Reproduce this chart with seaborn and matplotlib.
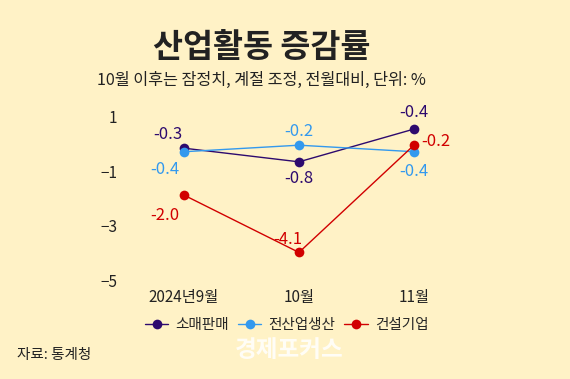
import pandas as pd
import seaborn as sns
import matplotlib.pyplot as plt

# 데이터
months = ['2024년9월', '10월', '11월']
series_names = ['소매판매', '전산업생산', '건설기업']
retail = [-0.15, -0.65, 0.55]
production = [-0.28, -0.04, -0.28]
construction = [-1.87, -3.97, -0.04]
retail_labels = ['-0.3', '-0.8', '-0.4']
production_labels = ['-0.4', '-0.2', '-0.4']
construction_labels = ['-2.0', '-4.1', '-0.2']
yticks = [1, -1, -3, -5]

colors = ['#2d0a6e', '#3399ee', '#d10000']
bg = '#fff2c6'

df = pd.DataFrame({
    'month': months * 3,
    'series': [s for s in series_names for _ in months],
    'value': retail + production + construction,
})

sns.set_style('white')
plt.rcParams['font.family'] = ['Noto Sans CJK KR', 'DejaVu Sans']
plt.rcParams['axes.unicode_minus'] = True

fig = plt.figure(figsize=(5.7, 3.79), dpi=100, facecolor=bg)
ax = fig.add_axes([0.222, 0.2454, 0.605, 0.4896])
ax.set_facecolor(bg)

sns.lineplot(data=df, x='month', y='value', hue='series', palette=colors,
             hue_order=series_names, marker='o', markersize=7, markeredgewidth=0,
             linewidth=1, sort=False, ax=ax)

# 데이터 레이블
label_sets = [retail_labels, production_labels, construction_labels]
value_sets = [retail, production, construction]
offsets = [
    [(-12, 10), (0, -12), (0, 12)],   # 소매판매
    [(-14, -13), (0, 10), (0, -14)],  # 전산업생산
    [(-14, -15), (-8, 9), (16, 3)],   # 건설기업
]
for labels, vals, offs, c in zip(label_sets, value_sets, offsets, colors):
    for i, (lab, v, off) in enumerate(zip(labels, vals, offs)):
        ax.annotate(lab, (i, v), xytext=off, textcoords='offset points',
                    ha='center', va='center', fontsize=12, color=c)

ax.set_xlim(-0.5, 2.5)
ax.set_ylim(-5.2, 1.6)
ax.set_yticks(yticks)
ax.set_yticklabels([str(t).replace('-', '\u2212') for t in yticks])
ax.tick_params(axis='both', length=0, labelsize=11, colors='#222222')
ax.tick_params(axis='y', pad=6.5)
ax.tick_params(axis='x', pad=2)
ax.set_xlabel('')
ax.set_ylabel('')
for s in ax.spines.values():
    s.set_visible(False)

ax.get_legend().remove()
handles, lbls = ax.get_legend_handles_labels()
fig.legend(handles, lbls, loc='center', bbox_to_anchor=(0.503, 1 - 325 / 379),
           ncol=3, frameon=False, fontsize=10.5, handlelength=1.6,
           handletextpad=0.5, columnspacing=0.6)

fig.text(0.459, 1 - 47 / 379, '산업활동 증감률', ha='center', va='center',
         fontsize=23.5, fontweight='bold', color='#222222')
fig.text(0.459, 1 - 80 / 379, '10월 이후는 잠정치, 계절 조정, 전월대비, 단위: %',
         ha='center', va='center', fontsize=11.7, fontweight='medium', color='#222222')
fig.text(17 / 570, 1 - 355 / 379, '자료: 통계청', ha='left', va='center',
         fontsize=10.5, color='#222222')
fig.text(289 / 570, 1 - 350 / 379, '경제포커스', ha='center', va='center',
         fontsize=17, fontweight='bold', color='white', alpha=0.85)

fig.savefig('out.png', dpi=100, facecolor=bg)
